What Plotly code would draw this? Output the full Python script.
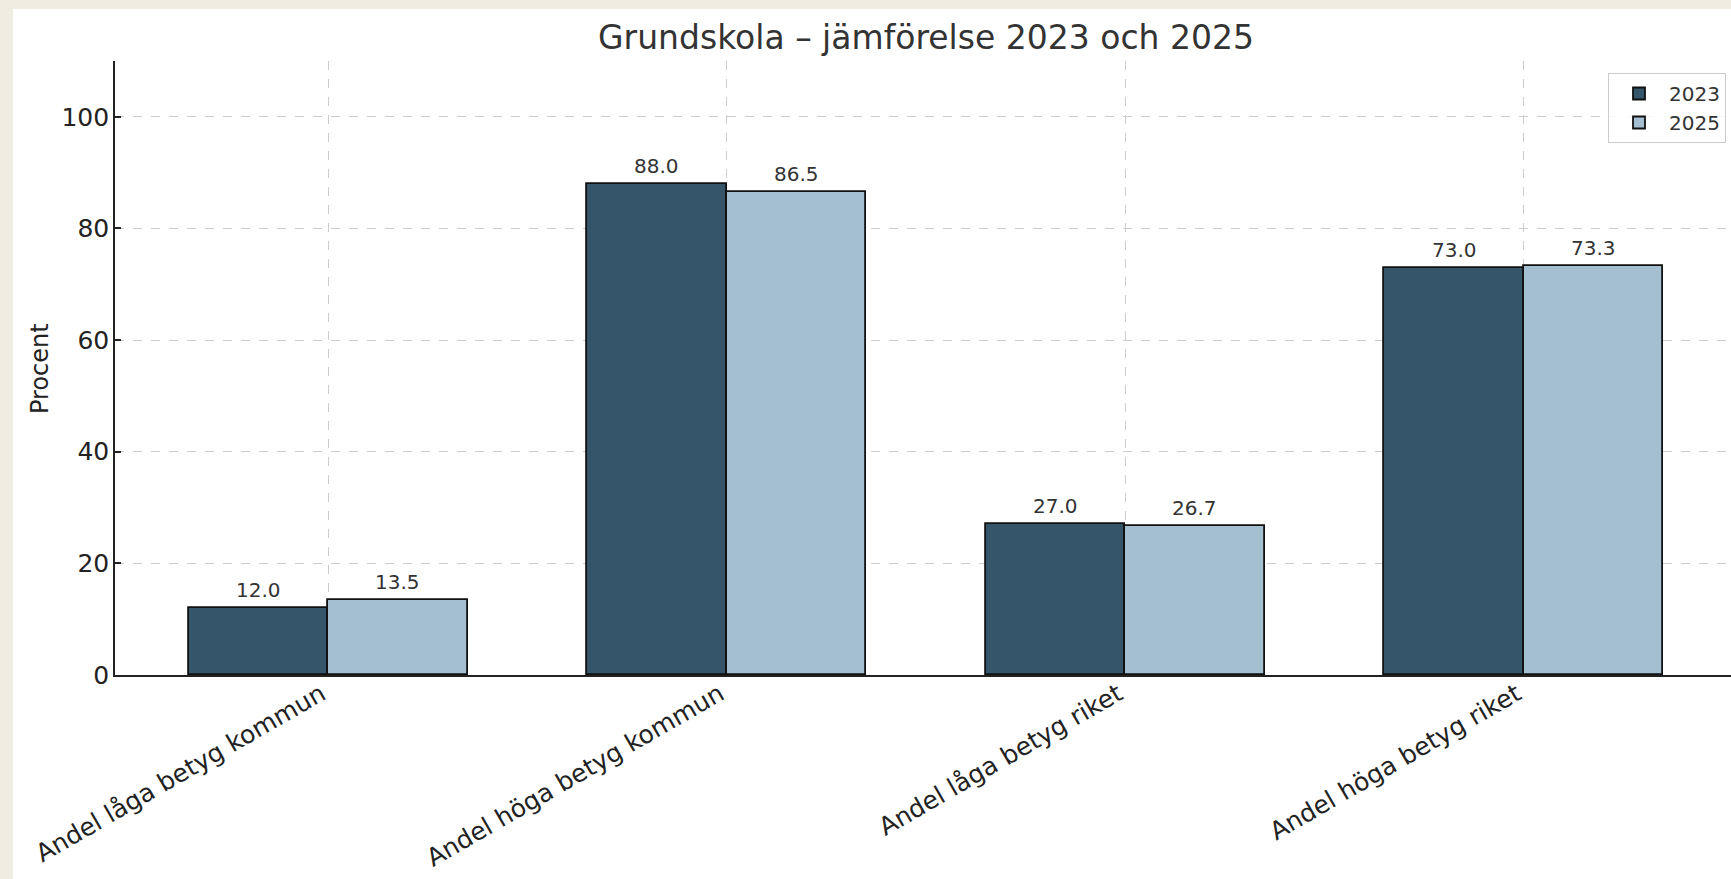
import plotly.graph_objects as go

# data
categories = [
    "Andel låga betyg kommun",
    "Andel höga betyg kommun",
    "Andel låga betyg riket",
    "Andel höga betyg riket",
]
values_2023 = [12.0, 88.0, 27.0, 73.0]
values_2025 = [13.5, 86.5, 26.7, 73.3]
y_ticks = [0, 20, 40, 60, 80, 100]

W, H = 1731, 879
L, T, B = 115, 61, 675          # plot area edges in px (right edge runs off the page)
PW, PH = W - L, B - T
BAR_W = 0.35
FONT = "DejaVu Sans"
BEIGE = "#f0ece2"

dark, light = "#35556b", "#a3bfd0"
positions = list(range(len(categories)))


def px_x(p):
    return (p - L) / PW


def px_y(p):
    return (B - p) / PH


fig = go.Figure()
for name, vals, col, off in [("2023", values_2023, dark, -BAR_W), ("2025", values_2025, light, 0.0)]:
    fig.add_trace(go.Bar(
        x=positions, y=vals, name=name, width=BAR_W, offset=off,
        marker=dict(color=col, line=dict(color="#111111", width=1.8)),
        hoverinfo="skip",
    ))
    for p, v in zip(positions, vals):
        fig.add_annotation(
            x=p + off + BAR_W / 2, y=v, text=f"{v:.1f}", showarrow=False,
            yanchor="bottom", yshift=4, font=dict(family=FONT, size=20, color="#333333"),
        )

# y-axis title
fig.add_annotation(
    xref="paper", yref="paper", x=px_x(40), xanchor="center", y=px_y(369), yanchor="middle",
    text="Procent", textangle=-90,
    showarrow=False, font=dict(family=FONT, size=24, color="#222222"),
)

# white card over the beige page
fig.add_shape(
    type="rect", xref="paper", yref="paper", layer="below",
    x0=px_x(13), x1=px_x(W + 5), y0=px_y(H + 5), y1=px_y(9),
    fillcolor="white", line=dict(width=0),
)

fig.update_layout(
    width=W, height=H,
    margin=dict(l=L, r=0, t=T, b=H - B, pad=0),
    paper_bgcolor=BEIGE, plot_bgcolor="white",
    font=dict(family=FONT, color="#222222"),
    title=dict(
        text="Grundskola – jämförelse 2023 och 2025",
        x=926 / W, xanchor="center", y=1 - 37 / H, yanchor="middle",
        font=dict(family=FONT, size=33, color="#333333"),
    ),
    bargap=0, showlegend=True,
    legend=dict(
        x=px_x(1726), xanchor="right", y=px_y(73), yanchor="top",
        bgcolor="rgba(255,255,255,0.85)", bordercolor="#cccccc", borderwidth=1,
        font=dict(family=FONT, size=20, color="#333333"), itemwidth=50,
    ),
)
fig.update_xaxes(
    range=[-0.535, 3.52], tickvals=positions, ticktext=categories, tickangle=-30,
    tickfont=dict(family=FONT, size=25, color="#222222"),
    showgrid=True, gridcolor="#cccccc", griddash="dash", gridwidth=1,
    showline=True, linecolor="#222222", linewidth=1.6, ticks="", zeroline=False,
    ticklabelstandoff=-7, ticklabelshift=-7,
)
fig.update_yaxes(
    range=[0, 110], tickvals=y_ticks,
    tickfont=dict(family=FONT, size=25, color="#222222"),
    showgrid=True, gridcolor="#cccccc", griddash="dash", gridwidth=1,
    showline=True, linecolor="#222222", linewidth=1.6, zeroline=False,
    ticks="inside", ticklen=6, tickcolor="#222222", tickwidth=1.6, ticklabelstandoff=-1,
)

# drop the default page margin so the figure sits at the window's corner
fig.write_html(
    "out.html",
    config={"displayModeBar": False},
    post_script=f"document.body.style.margin='0';document.body.style.background='{BEIGE}';",
)
